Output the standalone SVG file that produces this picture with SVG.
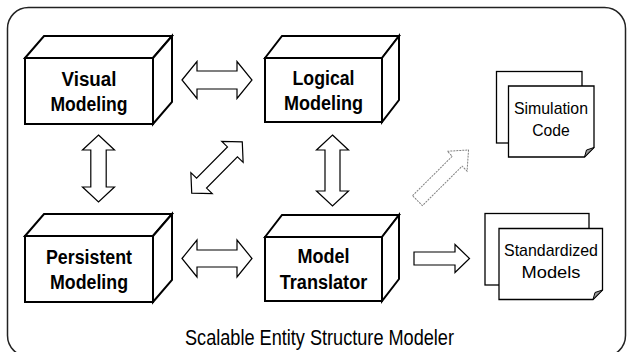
<svg xmlns="http://www.w3.org/2000/svg" width="627" height="352" viewBox="0 0 627 352">
<style>
.face{fill:#fff;stroke:#000;stroke-width:2;stroke-linejoin:miter}
.lbl{font-family:"Liberation Sans",Arial,sans-serif;font-weight:bold;font-size:20px;fill:#000;text-anchor:middle}
.doc{fill:#fff;stroke:#000;stroke-width:1.3}
.fold{fill:#999;stroke:#000;stroke-width:1}
.dlbl{font-family:"Liberation Sans",Arial,sans-serif;font-size:17px;fill:#000;text-anchor:middle}
.arr{fill:#fff;stroke:#000;stroke-width:1.2;stroke-linejoin:miter}
.garr{fill:#fff;stroke:#808080;stroke-width:1;stroke-dasharray:2 1}
.title{font-family:"Liberation Sans",Arial,sans-serif;font-size:22px;fill:#000;text-anchor:middle}
</style>
<rect id="frame" x="7.5" y="7.5" width="618" height="349" rx="21" ry="21" fill="#fff" stroke="#222" stroke-width="1.5"/>
<g id="connectors">
<path class="arr" d="M182,80 L197,61.5 L197,71 L237,71 L237,61.5 L252,80 L237,98.5 L237,89 L197,89 L197,98.5 Z"/>
<path class="arr" d="M182,258.5 L197,240 L197,250 L237,250 L237,240 L252,258.5 L237,277 L237,267 L197,267 L197,277 Z"/>
<path class="arr" d="M98.5,135 L114.5,150 L106.2,150 L106.2,187 L114.5,187 L98.5,202 L82.5,187 L90.8,187 L90.8,150 L82.5,150 Z"/>
<path class="arr" d="M332.5,135 L348.5,150 L340,150 L340,191 L348.5,191 L332.5,206 L316.5,191 L325,191 L325,150 L316.5,150 Z"/>
<path class="arr" transform="translate(217,167.5) rotate(-45.4)" d="M-36,0 L-22,-15 L-22,-7 L22,-7 L22,-15 L36,0 L22,15 L22,7 L-22,7 L-22,15 Z"/>
<path class="garr" transform="translate(443,175.3) rotate(-44.8)" d="M-36,-7 L20,-7 L20,-14 L36,0 L20,14 L20,7 L-36,7 Z"/>
<path class="arr" d="M414,252 L455,252 L455,244.5 L469.5,258.5 L455,272.5 L455,265 L414,265 Z"/>
</g>
<g id="visual-modeling">
<path class="face" d="M25,58 L44,36 L172,36 L153,58 Z"/>
<path class="face" d="M153,58 L172,36 L172,102 L153,124 Z"/>
<rect class="face" x="25" y="58" width="128" height="66"/>
<text class="lbl" x="89" y="85.5" textLength="55" lengthAdjust="spacingAndGlyphs">Visual</text>
<text class="lbl" x="89" y="110.5" textLength="77" lengthAdjust="spacingAndGlyphs">Modeling</text>
</g>
<g id="logical-modeling">
<path class="face" d="M265,58 L282,36 L399,36 L382,58 Z"/>
<path class="face" d="M382,58 L399,36 L399,100 L382,122 Z"/>
<rect class="face" x="265" y="58" width="117" height="64"/>
<text class="lbl" x="323.5" y="85" textLength="62" lengthAdjust="spacingAndGlyphs">Logical</text>
<text class="lbl" x="323.5" y="110" textLength="79" lengthAdjust="spacingAndGlyphs">Modeling</text>
</g>
<g id="persistent-modeling">
<path class="face" d="M25,236 L44,214 L172,214 L153,236 Z"/>
<path class="face" d="M153,236 L172,214 L172,280 L153,302 Z"/>
<rect class="face" x="25" y="236" width="128" height="66"/>
<text class="lbl" x="89" y="263.5" textLength="86" lengthAdjust="spacingAndGlyphs">Persistent</text>
<text class="lbl" x="89" y="288.5" textLength="78" lengthAdjust="spacingAndGlyphs">Modeling</text>
</g>
<g id="model-translator">
<path class="face" d="M265,237 L282,215 L399,215 L382,237 Z"/>
<path class="face" d="M382,237 L399,215 L399,279 L382,301 Z"/>
<rect class="face" x="265" y="237" width="117" height="64"/>
<text class="lbl" x="323.5" y="263" textLength="52" lengthAdjust="spacingAndGlyphs">Model</text>
<text class="lbl" x="323.5" y="288.5" textLength="87.5" lengthAdjust="spacingAndGlyphs">Translator</text>
</g>
<g id="simulation-code">
<rect class="doc" x="496.5" y="71.5" width="85.5" height="71.5"/>
<path class="doc" d="M508.5,86 L594,86 L594,147.5 L584.5,157 L508.5,157 Z"/>
<path class="fold" d="M594,147.5 L584.5,157 L586.5,150 Z"/>
<text class="dlbl" x="551" y="114" textLength="74" lengthAdjust="spacingAndGlyphs">Simulation</text>
<text class="dlbl" x="551" y="136" textLength="37.5" lengthAdjust="spacingAndGlyphs">Code</text>
</g>
<g id="standardized-models">
<rect class="doc" x="485" y="213.5" width="104" height="71.5"/>
<path class="doc" d="M499,228.5 L602.5,228.5 L602.5,290 L593,299.5 L499,299.5 Z"/>
<path class="fold" d="M602.5,290 L593,299.5 L595,292.5 Z"/>
<text class="dlbl" x="551" y="256" textLength="94" lengthAdjust="spacingAndGlyphs">Standardized</text>
<text class="dlbl" x="551" y="277.5" textLength="59" lengthAdjust="spacingAndGlyphs">Models</text>
</g>
<text id="title" class="title" x="319.5" y="344.5" textLength="269" lengthAdjust="spacingAndGlyphs">Scalable Entity Structure Modeler</text>
</svg>
